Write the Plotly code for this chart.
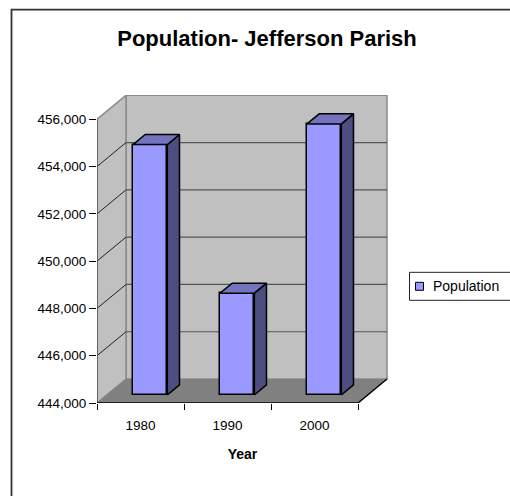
import plotly.graph_objects as go

# ---- data ----
years = ["1980", "1990", "2000"]
population = [454592, 448306, 455466]
y_ticks = [444000, 446000, 448000, 450000, 452000, 454000, 456000]
y_tick_labels = ["444,000", "446,000", "448,000", "450,000", "452,000", "454,000", "456,000"]
series_name = "Population"
chart_title = "Population- Jefferson Parish"
x_title = "Year"

# ---- 3D emulation geometry (in axis units) ----
Y0, Y1 = y_ticks[0], y_ticks[-1]
PX_PER_Y = 284.0 / (Y1 - Y0)          # pixels per value unit
DX = 29.0 / 87.0                       # depth shift in x units
DY = 24.0 / PX_PER_Y                   # depth shift in y units
F1 = 1.0 / 3.0                         # depth position of bar front face
FD = 0.42                              # bar depth fraction
BW = 0.394                             # bar width (x units)
XL, XR = -0.5, len(years) - 0.5
Y_TOP = Y0 + 308.3 / PX_PER_Y

# plot area in pixels
PL, PR, PT, PB = 97.0, 388.0, 95.0, 403.3
PW, PH = PR - PL, PB - PT


def px_x(px):
    return (px - PL) / PW


def px_y(py):
    return (PB - py) / PH


xs = list(range(len(years)))

BAR = "#9999ff"
SIDE = "#4d4d80"
TOP = "#7373c0"
WALL = "#c0c0c0"
FLOOR = "#808080"

fig = go.Figure()

fig.add_trace(go.Bar(
    x=xs, y=[p - Y0 for p in population], base=Y0 + F1 * DY,
    width=BW, offset=F1 * DX - BW / 2,
    marker=dict(color=BAR, line=dict(color="black", width=1.5)),
    name=series_name, showlegend=False, hoverinfo="skip"))

for i, v in enumerate(population):
    xl = i + F1 * DX - BW / 2
    xr = xl + BW
    yb = Y0 + F1 * DY
    yt = v + F1 * DY
    ddx, ddy = FD * DX, FD * DY
    fig.add_trace(go.Scatter(
        x=[xr, xr + ddx, xr + ddx, xr, xr], y=[yb, yb + ddy, yt + ddy, yt, yb],
        fill="toself", fillcolor=SIDE, mode="lines",
        line=dict(color="black", width=1.5), showlegend=False, hoverinfo="skip"))
    fig.add_trace(go.Scatter(
        x=[xl, xr, xr + ddx, xl + ddx, xl], y=[yt, yt, yt + ddy, yt + ddy, yt],
        fill="toself", fillcolor=TOP, mode="lines",
        line=dict(color="black", width=1.5), showlegend=False, hoverinfo="skip"))


def poly(pts):
    return "M " + " L ".join(f"{x},{y}" for x, y in pts) + " Z"


shapes = []
# back wall
shapes.append(dict(type="path", xref="x", yref="y", layer="below",
                   path=poly([(XL + DX, Y0 + DY), (XR + DX, Y0 + DY), (XR + DX, Y1 + DY), (XL + DX, Y1 + DY)]),
                   fillcolor=WALL, line=dict(color="#8a8a8a", width=1.5)))
# left wall
shapes.append(dict(type="path", xref="x", yref="y", layer="below",
                   path=poly([(XL, Y0), (XL + DX, Y0 + DY), (XL + DX, Y1 + DY), (XL, Y1)]),
                   fillcolor=WALL, line=dict(color="#8a8a8a", width=1.5)))
# floor
shapes.append(dict(type="path", xref="x", yref="y", layer="below",
                   path=poly([(XL, Y0), (XR, Y0), (XR + DX, Y0 + DY), (XL + DX, Y0 + DY)]),
                   fillcolor=FLOOR, line=dict(width=0)))
# gridlines on back wall and left wall
for t in y_ticks[1:-1]:
    shapes.append(dict(type="line", xref="x", yref="y", layer="below",
                       x0=XL + DX, x1=XR + DX, y0=t + DY, y1=t + DY,
                       line=dict(color="#555555", width=1.2)))
    shapes.append(dict(type="line", xref="x", yref="y", layer="below",
                       x0=XL, x1=XL + DX, y0=t, y1=t + DY,
                       line=dict(color="#222222", width=1)))
# front axes
shapes.append(dict(type="line", xref="x", yref="y", layer="below",
                   x0=XL, x1=XL, y0=Y0, y1=Y1, line=dict(color="#555555", width=1.5)))
shapes.append(dict(type="line", xref="x", yref="y", layer="below",
                   x0=XL, x1=XR, y0=Y0, y1=Y0, line=dict(color="black", width=1.5)))
shapes.append(dict(type="line", xref="x", yref="y", layer="below",
                   x0=XR, x1=XR + DX, y0=Y0, y1=Y0 + DY, line=dict(color="black", width=1.5)))
# chart border
shapes.append(dict(type="rect", xref="paper", yref="paper",
                   x0=px_x(11.5), x1=px_x(530), y0=px_y(520), y1=px_y(9.5),
                   line=dict(color="#333333", width=1.8), fillcolor="rgba(0,0,0,0)"))
# legend box and key
shapes.append(dict(type="rect", xref="paper", yref="paper",
                   x0=px_x(409.5), x1=px_x(530), y0=px_y(300.5), y1=px_y(272.5),
                   line=dict(color="#222222", width=1), fillcolor="white"))
shapes.append(dict(type="rect", xref="paper", yref="paper",
                   x0=px_x(415.5), x1=px_x(423.5), y0=px_y(290.5), y1=px_y(282.5),
                   line=dict(color="black", width=1), fillcolor=BAR))

annotations = [dict(text=series_name, xref="paper", yref="paper", x=px_x(431), y=px_y(286.5),
                    xanchor="left", yanchor="middle", showarrow=False,
                    font=dict(size=14, color="black"))]

fig.update_layout(
    width=510, height=496,
    margin=dict(l=PL, r=510 - PR, t=PT, b=496 - PB, autoexpand=False),
    paper_bgcolor="white", plot_bgcolor="white",
    font=dict(family="Liberation Sans, Arial, sans-serif", size=13, color="black"),
    title=dict(text=chart_title, x=267 / 510, xref="container", xanchor="center",
               y=1 - 38 / 496, yref="container", yanchor="middle",
               font=dict(size=22, weight="bold", color="black")),
    shapes=shapes,
    annotations=annotations,
    showlegend=False,
    bargap=0,
)

fig.update_xaxes(
    range=[XL, XL + PW / 87], tickmode="array", tickvals=xs, ticktext=years,
    ticks="", showgrid=False, zeroline=False, showline=False,
    ticklabelstandoff=12, tickfont=dict(size=13.5),
    minor=dict(tickmode="array", tickvals=[XL + k for k in range(len(years) + 1)],
               ticks="outside", ticklen=6, tickcolor="black", tickwidth=1, showgrid=False),
    title=dict(text=f"<b>{x_title}</b>", font=dict(size=14), standoff=17),
    fixedrange=True,
)
fig.update_yaxes(
    range=[Y0, Y_TOP], tickmode="array", tickvals=y_ticks, ticktext=y_tick_labels,
    ticks="outside", ticklen=7, tickcolor="black", tickwidth=1,
    showgrid=False, zeroline=False, showline=False, tickfont=dict(size=13.5),
    fixedrange=True,
)

fig.write_html("out.html", config={"displayModeBar": False},
               post_script="document.body.style.margin='0';document.body.style.padding='0';")
